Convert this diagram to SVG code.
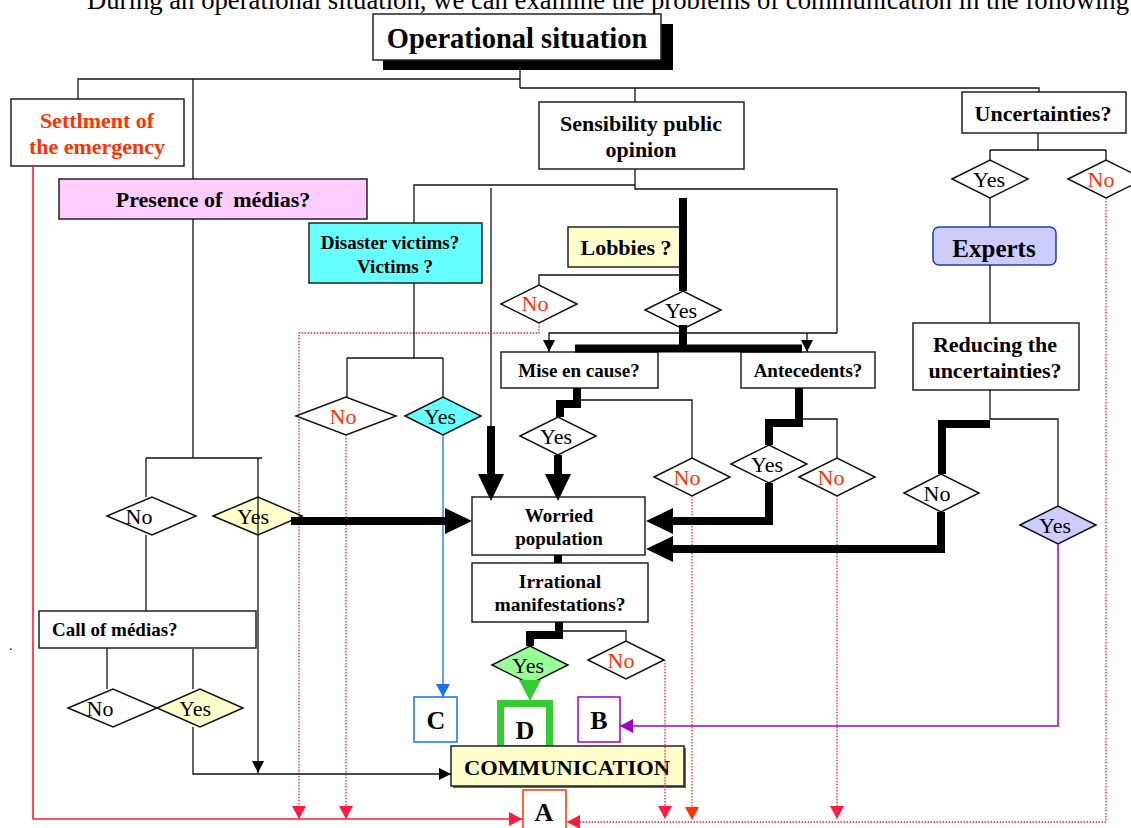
<svg xmlns="http://www.w3.org/2000/svg" width="1131" height="828" viewBox="0 0 1131 828">
<style>
.box{fill:#fff;stroke:#222;stroke-width:1.5}
.t{font-family:"Liberation Serif",serif;font-weight:bold;text-anchor:middle;fill:#000}
.d{font-family:"Liberation Serif",serif;font-size:22px;text-anchor:middle;fill:#000}
.red{fill:#FF3300}
.ln{stroke:#111;stroke-width:1.3;fill:none}
.thick{stroke:#000;stroke-width:8;fill:none;stroke-linejoin:miter;stroke-linecap:square}
.dot{stroke:#FF1A40;stroke-width:1.3;stroke-dasharray:1.5 1.5;fill:none}
.dia{fill:#fff;stroke:#111;stroke-width:1.5}
</style>
<defs>
<marker id="ab" markerUnits="userSpaceOnUse" markerWidth="12" markerHeight="12" refX="12" refY="6" orient="auto"><path d="M0,0 L12,6 L0,12 z" fill="#000"/></marker>
<marker id="ar" markerUnits="userSpaceOnUse" markerWidth="13" markerHeight="14" refX="13" refY="7" orient="auto"><path d="M0,0 L13,7 L0,14 z" fill="#FF1A40"/></marker>
<marker id="ao" markerUnits="userSpaceOnUse" markerWidth="13" markerHeight="14" refX="13" refY="7" orient="auto"><path d="M0,0 L13,7 L0,14 z" fill="#FF3300"/></marker>
<marker id="abl" markerUnits="userSpaceOnUse" markerWidth="13" markerHeight="14" refX="13" refY="7" orient="auto"><path d="M0,0 L13,7 L0,14 z" fill="#1A6FF0"/></marker>
<marker id="ap" markerUnits="userSpaceOnUse" markerWidth="13" markerHeight="14" refX="13" refY="7" orient="auto"><path d="M0,0 L13,7 L0,14 z" fill="#9900CC"/></marker>
<marker id="at" markerUnits="userSpaceOnUse" markerWidth="28" markerHeight="28" refX="0" refY="14" orient="auto"><path d="M0,1 L27,14 L0,27 z" fill="#000"/></marker>
</defs>

<text x="87" y="9" font-family="Liberation Serif, serif" font-size="26.7" fill="#000">During an operational situation, we can examine the problems of communication in the following</text>
<text x="9" y="650" font-family="Liberation Serif, serif" font-size="14" fill="#000">.</text>

<g id="n-operational">
<rect x="383" y="24" width="290" height="46" fill="#000"/>
<rect x="373" y="14" width="288" height="46" class="box"/>
<text x="517" y="48" class="t" font-size="28.5">Operational situation</text>
</g>
<g id="n-settlement">
<rect x="11" y="99" width="173" height="67" class="box"/>
<text x="97" y="128" class="t red" font-size="22">Settlment of</text>
<text x="97" y="154" class="t red" font-size="22">the emergency</text>
</g>
<g id="n-presence">
<rect x="59" y="179" width="308" height="40" class="box" style="fill:#FFCCFF"/>
<text x="213" y="207" class="t" font-size="22" xml:space="preserve">Presence of  médias?</text>
</g>
<g id="n-sensibility">
<rect x="539" y="102" width="205" height="67" class="box"/>
<text x="641" y="131" class="t" font-size="22">Sensibility public</text>
<text x="641" y="157" class="t" font-size="22">opinion</text>
</g>
<g id="n-uncertainties">
<rect x="962" y="92" width="164" height="41" class="box"/>
<text x="1043" y="121" class="t" font-size="22">Uncertainties?</text>
</g>
<g id="n-disaster">
<rect x="309" y="223" width="173" height="60" class="box" style="fill:#66FFFF"/>
<text x="390" y="249" class="t" font-size="19">Disaster victims?</text>
<text x="395" y="273" class="t" font-size="19">Victims ?</text>
</g>
<g id="n-lobbies">
<rect x="568" y="227" width="117" height="40" class="box" style="fill:#FFFFCC"/>
<text x="626" y="255" class="t" font-size="22">Lobbies ?</text>
</g>
<g id="n-experts">
<rect x="933" y="227" width="123" height="38" rx="6" fill="#CCCCFF" stroke="#1E3FA8" stroke-width="1.5"/>
<text x="994" y="257" class="t" font-size="25">Experts</text>
</g>
<g id="n-mise">
<rect x="501" y="352" width="157" height="36" class="box"/>
<text x="579" y="377" class="t" font-size="19">Mise en cause?</text>
</g>
<g id="n-antecedents">
<rect x="741" y="352" width="134" height="36" class="box"/>
<text x="808" y="377" class="t" font-size="19">Antecedents?</text>
</g>
<g id="n-reducing">
<rect x="913" y="323" width="166" height="67" class="box"/>
<text x="995" y="352" class="t" font-size="22">Reducing the</text>
<text x="995" y="378" class="t" font-size="22">uncertainties?</text>
</g>
<g id="n-worried">
<rect x="472" y="497" width="173" height="58" class="box"/>
<text x="559" y="522" class="t" font-size="19">Worried</text>
<text x="559" y="545" class="t" font-size="19">population</text>
</g>
<g id="n-irrational">
<rect x="472" y="563" width="176" height="59" class="box"/>
<text x="560" y="588" class="t" font-size="19.5">Irrational</text>
<text x="560" y="611" class="t" font-size="19.5">manifestations?</text>
</g>
<g id="n-callmedias">
<rect x="39" y="611" width="217" height="37" class="box"/>
<text x="52" y="636" class="t" font-size="19" style="text-anchor:start">Call of médias?</text>
</g>
<g id="n-c">
<rect x="414" y="697" width="43" height="45" fill="#fff" stroke="#1A6FF0" stroke-width="1.5"/>
<text x="436" y="729" class="t" font-size="26">C</text>
</g>
<g id="n-d">
<rect x="500.5" y="703.5" width="49" height="45" fill="#fff" stroke="#33CC33" stroke-width="7"/>
<text x="525" y="739" class="t" font-size="26">D</text>
</g>
<g id="n-b">
<rect x="578" y="697" width="42" height="45" fill="#fff" stroke="#9900CC" stroke-width="1.5"/>
<text x="599" y="729" class="t" font-size="26">B</text>
</g>
<g id="n-communication">
<rect x="453" y="748" width="233" height="40" fill="#666"/>
<rect x="451" y="746" width="233" height="40" fill="#FFFFCC" stroke="#222" stroke-width="1.5"/>
<text x="567" y="775" class="t" font-size="22" textLength="206" lengthAdjust="spacingAndGlyphs">COMMUNICATION</text>
</g>
<g id="n-a">
<rect x="523" y="790" width="43" height="45" fill="#fff" stroke="#FF3300" stroke-width="1.5"/>
<text x="544" y="821" class="t" font-size="26">A</text>
</g>

<g id="decisions">
<g id="d-lobbies-no"><polygon class="dia" points="501,304 539,285 577,304 539,323"/><text x="535" y="311" class="d red">No</text></g>
<g id="d-lobbies-yes"><polygon class="dia" points="645,310 683,291 721,310 683,329"/><text x="681" y="318" class="d">Yes</text></g>
<g id="d-disaster-no"><polygon class="dia" points="296,416 346,397 396,416 346,435"/><text x="343" y="424" class="d red">No</text></g>
<g id="d-disaster-yes"><polygon class="dia" style="fill:#66FFFF" points="405,416 443,397 481,416 443,435"/><text x="440" y="424" class="d">Yes</text></g>
<g id="d-media-no"><polygon class="dia" points="107,516 152,497 196,516 152,535"/><text x="139" y="524" class="d">No</text></g>
<g id="d-media-yes"><polygon class="dia" style="fill:#FFFFCC" points="213,516 258,497 302,516 258,535"/><text x="253" y="524" class="d">Yes</text></g>
<g id="d-call-no"><polygon class="dia" points="68,708 113,689 157,708 113,727"/><text x="100" y="716" class="d">No</text></g>
<g id="d-call-yes"><polygon class="dia" style="fill:#FFFFCC" points="157,708 200,689 243,708 200,727"/><text x="195" y="716" class="d">Yes</text></g>
<g id="d-mise-yes"><polygon class="dia" points="520,436 558,417 596,436 558,455"/><text x="556" y="444" class="d">Yes</text></g>
<g id="d-mise-no"><polygon class="dia" points="654,477 692,458 730,477 692,496"/><text x="687" y="485" class="d red">No</text></g>
<g id="d-ante-yes"><polygon class="dia" points="731,464 769,445 807,464 769,483"/><text x="767" y="472" class="d">Yes</text></g>
<g id="d-ante-no"><polygon class="dia" points="799,477 837,458 875,477 837,496"/><text x="831" y="485" class="d red">No</text></g>
<g id="d-reduce-no"><polygon class="dia" points="904,493 941,474 979,493 941,512"/><text x="937" y="501" class="d">No</text></g>
<g id="d-reduce-yes"><polygon class="dia" style="fill:#CCCCFF" points="1020,525 1058,506 1096,525 1058,544"/><text x="1055" y="533" class="d">Yes</text></g>
<g id="d-unc-yes"><polygon class="dia" points="952,179 990,160 1028,179 990,198"/><text x="989" y="187" class="d">Yes</text></g>
<g id="d-unc-no"><polygon class="dia" points="1068,179 1106,160 1144,179 1106,198"/><text x="1101" y="187" class="d red">No</text></g>
<g id="d-irr-yes"><polygon class="dia" style="fill:#99FF99" points="492,665 530,646 568,665 530,684"/><text x="528" y="673" class="d">Yes</text></g>
<g id="d-irr-no"><polygon class="dia" points="588,660 626,641 664,660 626,679"/><text x="621" y="668" class="d red">No</text></g>
</g>

<g id="connectors">
<path class="ln" d="M520,60 V88 M78,99 V79 H520 M520,88 H1039 V92 M193,79 V179 M635,88 V102"/>
<path class="ln" d="M635,169 V185 H414 V223 M635,185 V189 H837 V333"/>
<path class="ln" d="M837,333 H549 V352" marker-end="url(#ab)"/>
<path class="ln" d="M807,333 V352" marker-end="url(#ab)"/>
<path class="ln" d="M491,188 V426"/>
<path class="thick" d="M491,426 V474" style="stroke-linecap:butt" marker-end="url(#at)"/>
<path class="thick" d="M683,198 V291" style="stroke-linecap:butt"/>
<path class="thick" d="M683,329 V348 M579,348.5 H798"/>
<path class="ln" d="M683,275 H539 V285"/>
<path class="dot" d="M539,323 V333 H299 V819" marker-end="url(#ar)"/>
<path class="ln" d="M414,283 V358 M347,358 H443 M347,358 V397 M443,358 V397"/>
<path class="dot" d="M346,435 V819" marker-end="url(#ar)"/>
<path d="M443,435 V697" stroke="#1A6FF0" stroke-width="1.3" fill="none" marker-end="url(#abl)"/>
<path class="ln" d="M193,219 V458 M146,458 H262 M146,458 V497"/>
<path class="ln" d="M258,458 V773" marker-end="url(#ab)"/>
<path class="thick" d="M291,521 H445" style="stroke-linecap:butt" marker-end="url(#at)"/>
<path class="ln" d="M146,535 V611 M107,648 V689 M193,649 V689"/>
<path class="ln" d="M193,727 V774 H451" marker-end="url(#ab)"/>
<path d="M33,166 V819 H522" stroke="#FF1A40" stroke-width="1.6" fill="none" marker-end="url(#ar)"/>
<path class="thick" d="M577,388 V404 H560 V417" style="stroke-linecap:butt"/>
<path class="thick" d="M558,455 V474" style="stroke-linecap:butt" marker-end="url(#at)"/>
<path class="ln" d="M577,400 H692 V458"/>
<path d="M692,496 V820" stroke="#FF3300" stroke-width="1.3" stroke-dasharray="1.5 1.5" fill="none" marker-end="url(#ao)"/>
<path class="thick" d="M799,388 V423 H769 V445" style="stroke-linecap:butt"/>
<path class="ln" d="M799,419 H837 V458"/>
<path class="thick" d="M769,483 V521 H673" style="stroke-linecap:butt" marker-end="url(#at)"/>
<path class="dot" d="M837,496 V819" marker-end="url(#ar)"/>
<path class="ln" d="M1038,133 V150 M990,150 H1106 M990,150 V160 M1106,150 V160 M990,198 V227 M990,265 V323"/>
<path class="ln" d="M990,390 V419 H1058 V506"/>
<path class="thick" d="M990,424 H942 V474" style="stroke-linecap:butt"/>
<path class="thick" d="M941,512 V549 H673" style="stroke-linecap:butt" marker-end="url(#at)"/>
<path d="M1058,544 V726 H620" stroke="#9900CC" stroke-width="1.5" fill="none" marker-end="url(#ap)"/>
<path class="dot" d="M1106,198 V822 H567" marker-end="url(#ar)"/>
<path class="thick" d="M558,555 V563" style="stroke-linecap:butt"/>
<path class="thick" d="M559,622 V635 H530 V646" style="stroke-linecap:butt"/>
<path class="ln" d="M559,631 H626 V641"/>
<polygon points="519,680 541,680 530,701" fill="#33CC33"/>
<path class="dot" d="M665,660 V819" marker-end="url(#ar)"/>
</g>
</svg>
